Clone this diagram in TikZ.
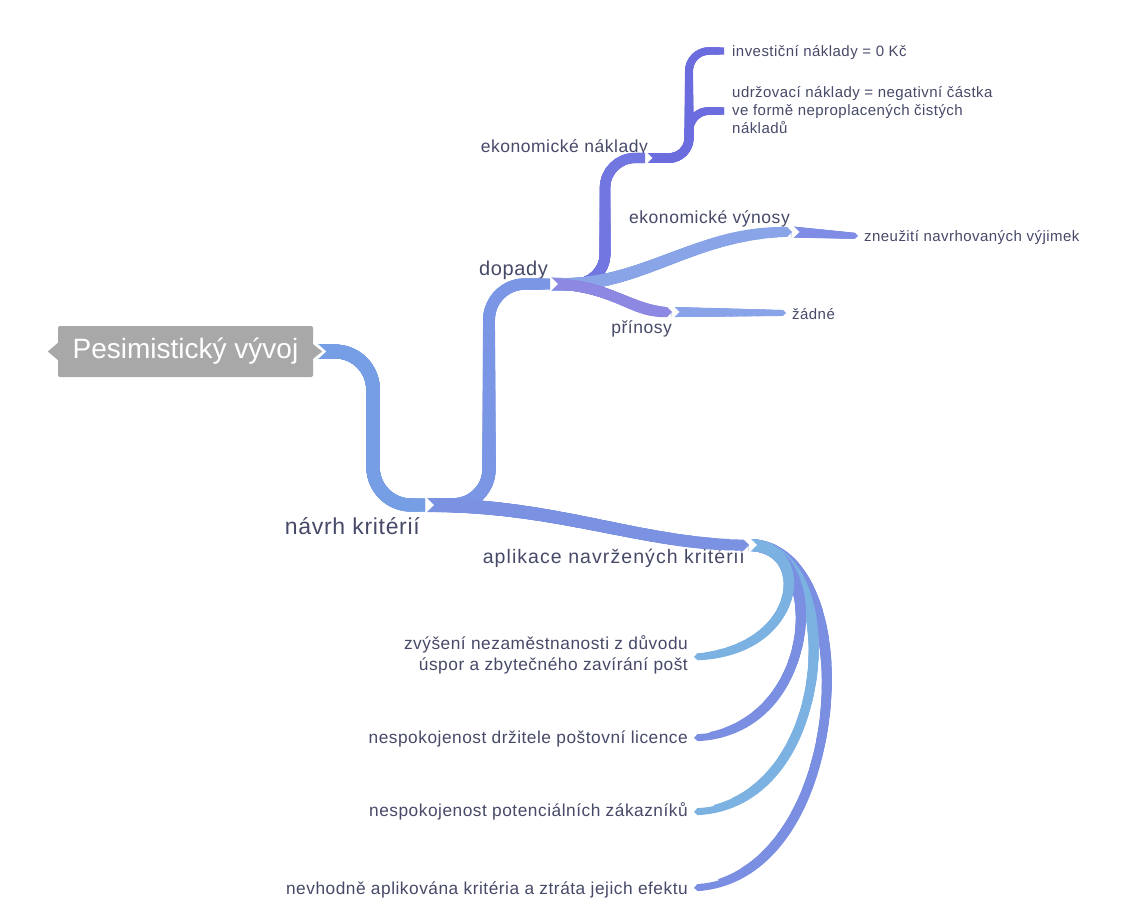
\documentclass[tikz,border=0pt]{standalone}
\usepackage{fontspec}
\setmainfont{Liberation Sans}
\newfontfamily\lblfont[LetterSpace=3]{Liberation Sans}
\newfontfamily\lblwidefont[LetterSpace=5.5]{Liberation Sans}
\usetikzlibrary{decorations.markings,calc,arrows.meta}
\definecolor{tc}{RGB}{70,74,104}
\definecolor{rootgray}{RGB}{168,168,168}
\definecolor{cMain}{RGB}{118,158,228}
\definecolor{cDop}{RGB}{122,150,228}
\definecolor{cApl}{RGB}{123,146,227}
\definecolor{cEkN}{RGB}{114,118,224}
\definecolor{cEkV}{RGB}{137,165,232}
\definecolor{cPri}{RGB}{141,136,226}
\definecolor{cInv}{RGB}{107,109,223}
\definecolor{cZne}{RGB}{127,141,230}
\definecolor{cZad}{RGB}{136,163,232}
\definecolor{cLight}{RGB}{124,178,226}
\definecolor{cMid}{RGB}{122,142,226}
\newcommand\mmnotch[2]{\fill[white] ($(#1)+(-0.7,-#2-3)$) -- ($(#1)+(#2+2.5,0)$) -- ($(#1)+(-0.7,#2+3)$) -- cycle;}
% tapered branch: #1 start width, #2 end width, #3 options (colour etc.), #4 path
\newcommand\mmbranch[4]{%
  \path[decorate,decoration={markings,mark=at position 0 with {\pgfmathsetmacro\mmlenx{\pgfdecoratedpathlength}\global\let\mmlen\mmlenx}}] #4;
  \foreach \k in {16,15,...,1}{%
    \pgfmathsetmacro\mmw{#2+(#1-#2)*\k/16}%
    \pgfmathsetmacro\mmd{\mmlen*(1-\k/17)}%
    \draw[#3, line width=\mmw pt, dash pattern=on \mmd pt off 10000pt] #4;
  }
  \draw[#3, line width=#2pt, -{Triangle Cap[]}] #4;
}
\tikzset{
  lbl/.style 2 args={inner sep=0pt, text=tc, font=\lblfont\fontsize{#1}{#2}\selectfont},
  lblwide/.style 2 args={inner sep=0pt, text=tc, font=\lblwidefont\fontsize{#1}{#2}\selectfont},
  rootbox/.style={fill=rootgray, text=white, rounded corners=2pt, inner sep=0pt,
     minimum width=255pt, minimum height=51pt, font=\fontsize{28}{32}\selectfont},
}
\begin{document}
\begin{tikzpicture}[x=1pt,y=-1pt]
\useasboundingbox (0,0) rectangle (1134,901);
\fill[white] (0,0) rectangle (1134,901);

% root
\node[rootbox] (root) at (185.5,351.5) {Pesimistický vývoj};
\fill[rootgray] ($(root.west)+(0.5,-9)$) -- ($(root.west)+(-10,0)$) -- ($(root.west)+(0.5,9)$) -- cycle;

% hubs and tips
\coordinate (hRoot) at (root.east);
\coordinate (hNavrh) at (425,505);
\coordinate (hDopady) at (550,284);
\coordinate (hApl) at (749,545);
\coordinate (hEkN) at (645,158);
\coordinate (hEkV) at (792,232);
\coordinate (hPri) at (672,312);
\coordinate (tInv) at (724,51);
\coordinate (tUdr) at (724,111);
\coordinate (tZne) at (858,236);
\coordinate (tZad) at (786,313);
\coordinate (tZvy) at (694,657);
\coordinate (tDrz) at (694,738);
\coordinate (tZak) at (694,812);
\coordinate (tNev) at (694,888);

% labels
\node[lbl={23}{27}, anchor=base east] (nNavrh) at (420,534) {návrh kritérií};
\node[lbl={20}{24}, anchor=base east] (nDopady) at (548,276) {dopady};
\node[lblwide={19.5}{24}, anchor=base east] (nApl) at (745,563) {aplikace navržených kritérií};
\node[lbl={17.5}{21}, anchor=base east] (nEkN) at (648,153) {ekonomické náklady};
\node[lbl={17.5}{21}, anchor=base east] (nEkV) at (790,224) {ekonomické výnosy};
\node[lbl={17.5}{21}, anchor=base east] (nPri) at (672,333) {přínosy};
\node[lbl={15}{18}, anchor=base west] (nInv) at (732,57) {investiční náklady = 0 Kč};
\node[lbl={15}{18}, anchor=base west] (nUdr) at (732,98) {\begin{tabular}[t]{@{}l@{}}udržovací náklady = negativní částka\\ve formě neproplacených čistých\\nákladů\end{tabular}};
\node[lbl={15}{18}, anchor=base west] (nZne) at (864,241) {zneužití navrhovaných výjimek};
\node[lbl={15}{18}, anchor=base west] (nZad) at (792,319) {žádné};
\node[lbl={17.3}{21}, anchor=base east] (nZvy) at (688,649) {\begin{tabular}[t]{@{}r@{}}zvýšení nezaměstnanosti z důvodu\\úspor a zbytečného zavírání pošt\end{tabular}};
\node[lbl={17.3}{21}, anchor=base east] (nDrz) at (688,743) {nespokojenost držitele poštovní licence};
\node[lbl={17.3}{21}, anchor=base east] (nZak) at (688,816) {nespokojenost potenciálních zákazníků};
\node[lbl={17.3}{21}, anchor=base east] (nNev) at (688,894) {nevhodně aplikována kritéria a ztráta jejich efektu};

% level 3 branches
\mmbranch{10}{7}{cInv, rounded corners=20pt}{(hEkN) -| (689,51) -- (tInv)}
\mmbranch{10}{7}{cInv, rounded corners=20pt}{(hEkN) -| (689,111) -- (tUdr)}
\mmbranch{11}{6}{cZne}{(hEkV) -- (tZne)}
\mmbranch{10}{6}{cZad}{(hPri) -- (tZad)}
% aplikace leaves
\mmbranch{12}{7}{cMid}{(hApl) .. controls (865,545) and (855,872) .. (tNev)}
\mmbranch{12}{7}{cLight}{(hApl) .. controls (845,545) and (840,800) .. (tZak)}
\mmbranch{12}{7}{cMid}{(hApl) .. controls (828,545) and (822,728) .. (tDrz)}
\mmbranch{12}{7}{cLight}{(hApl) .. controls (812,545) and (805,650) .. (tZvy)}
\mmnotch{hEkN}{5}
\mmnotch{hEkV}{5}
\mmnotch{hPri}{5}
% level 2
\mmbranch{11}{10}{cEkN, rounded corners=30pt}{(hDopady) -| (605,158) -- (hEkN)}
\mmbranch{13}{10}{cEkV}{(hDopady) .. controls (640,290) and (690,232) .. (hEkV)}
\mmbranch{11}{10}{cPri}{(hDopady) .. controls (610,284) and (630,312) .. (hPri)}
\mmnotch{hDopady}{5.5}
\mmnotch{hApl}{5.5}
% level 1
\mmbranch{14}{11}{cDop, rounded corners=36pt}{(hNavrh) -| (489,284) -- (hDopady)}
\mmbranch{14}{11}{cApl}{(hNavrh) .. controls (560,505) and (640,545) .. (hApl)}
\mmnotch{hNavrh}{6.5}
% level 0
\mmbranch{14}{13}{cMain, rounded corners=38pt}{(hRoot) -| (373,505) -- (hNavrh)}
\fill[white] ($(hRoot)+(0.2,-11.5)$) -- ($(hRoot)+(13,0)$) -- ($(hRoot)+(0.2,11.5)$) -- cycle;
\fill[rootgray] ($(hRoot)+(-0.5,-7.5)$) -- ($(hRoot)+(9,0)$) -- ($(hRoot)+(-0.5,7.5)$) -- cycle;
\end{tikzpicture}
\end{document}
